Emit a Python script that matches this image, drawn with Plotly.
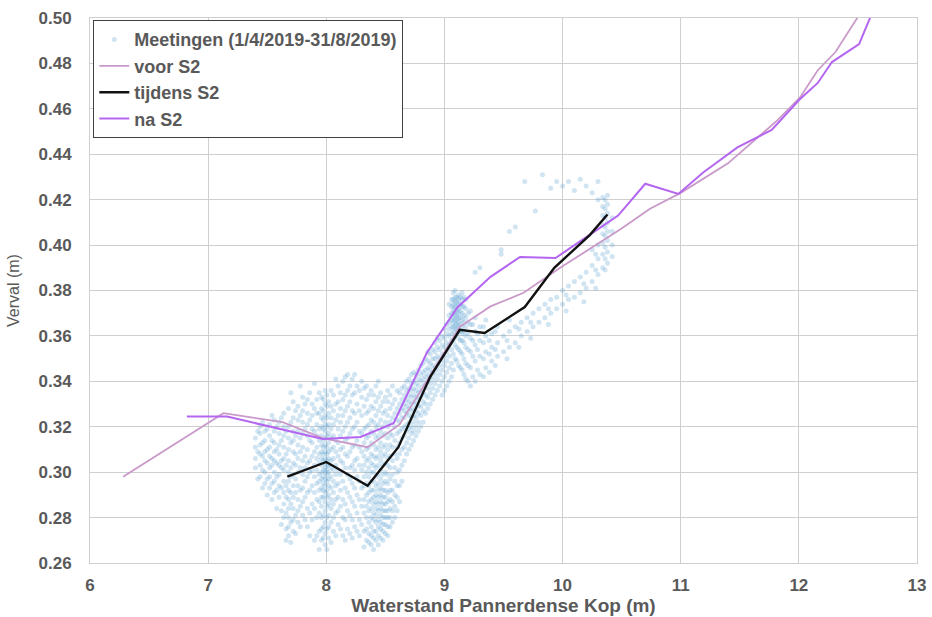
import plotly.graph_objects as go

# Measurement cloud, stored column by column: (waterstand, [verval values])
meas_columns = [
    (7.40, [0.302, 0.306, 0.311, 0.315]),
    (7.44, [0.298, 0.303, 0.308, 0.312, 0.317, 0.320]),
    (7.48, [0.295, 0.300, 0.305, 0.309, 0.314, 0.318]),
    (7.52, [0.293, 0.298, 0.302, 0.307, 0.311, 0.316, 0.321]),
    (7.56, [0.291, 0.296, 0.300, 0.305, 0.309, 0.313, 0.318, 0.323]),
    (7.60, [0.289, 0.294, 0.299, 0.303, 0.308, 0.312, 0.317, 0.322]),
    (7.64, [0.280, 0.286, 0.291, 0.296, 0.301, 0.306, 0.311, 0.316, 0.320, 0.326]),
    (7.68, [0.272, 0.276, 0.280, 0.284, 0.288, 0.292, 0.296, 0.300, 0.305, 0.310, 0.315, 0.320, 0.328]),
    (7.72, [0.274, 0.279, 0.284, 0.289, 0.294, 0.299, 0.304, 0.309, 0.314, 0.318, 0.324, 0.331]),
    (7.76, [0.278, 0.283, 0.288, 0.294, 0.300, 0.306, 0.312, 0.318, 0.323, 0.329]),
    (7.80, [0.281, 0.287, 0.293, 0.299, 0.305, 0.311, 0.317, 0.322, 0.327, 0.333]),
    (7.84, [0.276, 0.284, 0.291, 0.298, 0.304, 0.310, 0.316, 0.321, 0.326, 0.332]),
    (7.88, [0.279, 0.286, 0.294, 0.301, 0.307, 0.313, 0.319, 0.325, 0.330]),
    (7.92, [0.272, 0.280, 0.288, 0.295, 0.301, 0.306, 0.311, 0.316, 0.321, 0.326, 0.332]),
    (7.96, [0.270, 0.275, 0.280, 0.285, 0.289, 0.293, 0.297, 0.300, 0.303, 0.306, 0.309, 0.312,
            0.316, 0.320, 0.324, 0.328, 0.333]),
    (7.99, [0.268, 0.273, 0.278, 0.283, 0.287, 0.291, 0.294, 0.297, 0.300, 0.302, 0.304, 0.306,
            0.309, 0.312, 0.315, 0.318, 0.321, 0.325, 0.330, 0.336]),
    (8.02, [0.271, 0.276, 0.281, 0.286, 0.290, 0.294, 0.297, 0.300, 0.303, 0.306, 0.309, 0.313,
            0.317, 0.321, 0.326, 0.331]),
    (8.06, [0.274, 0.280, 0.286, 0.291, 0.296, 0.301, 0.306, 0.311, 0.316, 0.321, 0.327, 0.334]),
    (8.10, [0.277, 0.283, 0.289, 0.295, 0.301, 0.307, 0.313, 0.319, 0.325, 0.331, 0.338]),
    (8.14, [0.272, 0.280, 0.288, 0.296, 0.304, 0.311, 0.318, 0.325, 0.332, 0.340]),
    (8.18, [0.275, 0.283, 0.291, 0.299, 0.307, 0.315, 0.322, 0.329, 0.336, 0.343]),
    (8.22, [0.271, 0.279, 0.287, 0.295, 0.303, 0.311, 0.319, 0.327, 0.334, 0.341]),
    (8.26, [0.274, 0.282, 0.290, 0.298, 0.306, 0.314, 0.322, 0.330, 0.338]),
    (8.30, [0.277, 0.285, 0.293, 0.301, 0.309, 0.317, 0.325, 0.333, 0.340]),
    (8.34, [0.270, 0.275, 0.280, 0.285, 0.290, 0.295, 0.300, 0.305, 0.310, 0.315, 0.320, 0.326,
            0.332, 0.338]),
    (8.38, [0.268, 0.272, 0.276, 0.280, 0.284, 0.288, 0.292, 0.296, 0.300, 0.304, 0.308, 0.313,
            0.318, 0.323, 0.329, 0.336]),
    (8.42, [0.270, 0.274, 0.278, 0.281, 0.284, 0.287, 0.290, 0.294, 0.298, 0.302, 0.306, 0.310,
            0.315, 0.320, 0.325, 0.331, 0.338]),
    (8.46, [0.271, 0.275, 0.278, 0.281, 0.284, 0.287, 0.290, 0.293, 0.297, 0.301, 0.305, 0.309,
            0.313, 0.318, 0.323, 0.329, 0.335]),
    (8.50, [0.273, 0.277, 0.280, 0.283, 0.286, 0.289, 0.292, 0.296, 0.300, 0.304, 0.308, 0.312,
            0.317, 0.322, 0.327, 0.333]),
    (8.54, [0.276, 0.280, 0.284, 0.288, 0.292, 0.297, 0.302, 0.307, 0.312, 0.317, 0.322, 0.328, 0.334]),
    (8.58, [0.280, 0.285, 0.290, 0.296, 0.302, 0.308, 0.314, 0.320, 0.326, 0.332]),
    (8.62, [0.287, 0.294, 0.301, 0.308, 0.313, 0.318, 0.322, 0.326, 0.330, 0.335]),
    (8.66, [0.305, 0.311, 0.316, 0.320, 0.324, 0.327, 0.330, 0.334, 0.338]),
    (8.70, [0.310, 0.315, 0.319, 0.322, 0.325, 0.328, 0.331, 0.334, 0.337, 0.341]),
    (8.74, [0.314, 0.318, 0.322, 0.325, 0.328, 0.331, 0.334, 0.337, 0.340, 0.344]),
    (8.78, [0.318, 0.322, 0.326, 0.329, 0.332, 0.335, 0.338, 0.341, 0.345]),
    (8.82, [0.322, 0.327, 0.331, 0.335, 0.338, 0.341, 0.344, 0.348]),
    (8.86, [0.328, 0.333, 0.337, 0.340, 0.343, 0.346, 0.349, 0.353]),
    (8.90, [0.332, 0.337, 0.341, 0.344, 0.347, 0.350, 0.354]),
    (8.94, [0.336, 0.341, 0.345, 0.348, 0.351, 0.355, 0.359]),
    (8.98, [0.334, 0.340, 0.345, 0.349, 0.352, 0.356, 0.360]),
    (9.02, [0.338, 0.344, 0.349, 0.353, 0.357, 0.361, 0.365]),
    (9.06, [0.342, 0.348, 0.354, 0.358, 0.361, 0.364, 0.367, 0.370, 0.373, 0.376]),
    (9.09, [0.350, 0.356, 0.360, 0.363, 0.365, 0.367, 0.369, 0.371, 0.373, 0.375, 0.377, 0.380]),
    (9.12, [0.347, 0.354, 0.359, 0.362, 0.364, 0.366, 0.368, 0.370, 0.372, 0.374, 0.376, 0.378]),
    (9.15, [0.345, 0.352, 0.358, 0.361, 0.364, 0.367, 0.370, 0.373, 0.376, 0.379]),
    (9.18, [0.341, 0.348, 0.355, 0.360, 0.364, 0.368, 0.372, 0.376]),
    (9.22, [0.338, 0.346, 0.353, 0.359, 0.365, 0.371]),
    (9.26, [0.340, 0.349, 0.356, 0.362, 0.368, 0.388]),
    (9.30, [0.343, 0.351, 0.358, 0.364, 0.390]),
    (9.35, [0.346, 0.353, 0.360, 0.367]),
    (9.40, [0.349, 0.355, 0.361]),
    (9.45, [0.351, 0.357, 0.364]),
    (9.48, [0.396, 0.398]),
    (9.50, [0.353, 0.360]),
    (9.55, [0.355, 0.362, 0.367, 0.406]),
    (9.60, [0.357, 0.364, 0.408]),
    (9.65, [0.360, 0.366]),
    (9.68, [0.428]),
    (9.70, [0.362, 0.368]),
    (9.75, [0.364, 0.370]),
    (9.77, [0.415]),
    (9.80, [0.366, 0.372]),
    (9.83, [0.431]),
    (9.85, [0.368, 0.374]),
    (9.90, [0.370, 0.376, 0.425]),
    (9.95, [0.372, 0.377, 0.428]),
    (10.00, [0.374, 0.380, 0.426]),
    (10.05, [0.376, 0.382, 0.428]),
    (10.10, [0.377, 0.384, 0.424]),
    (10.15, [0.379, 0.386, 0.429]),
    (10.20, [0.381, 0.388, 0.426]),
    (10.25, [0.384, 0.391, 0.398, 0.423]),
    (10.30, [0.387, 0.394, 0.400, 0.420, 0.428]),
    (10.34, [0.390, 0.396, 0.401, 0.405, 0.409, 0.413, 0.417, 0.421]),
    (10.38, [0.392, 0.397, 0.402, 0.406, 0.410, 0.414, 0.418, 0.422]),
    (10.42, [0.395, 0.400, 0.406, 0.412]),
]

# Further measurements lying between the columns above
meas_columns_mid = [
    (7.42, [0.297, 0.309, 0.318]),
    (7.46, [0.293, 0.301, 0.307, 0.313, 0.322]),
    (7.50, [0.290, 0.297, 0.304, 0.310, 0.319]),
    (7.54, [0.288, 0.295, 0.303, 0.306, 0.314, 0.325]),
    (7.58, [0.284, 0.292, 0.298, 0.304, 0.310, 0.320]),
    (7.62, [0.277, 0.283, 0.293, 0.302, 0.305, 0.314, 0.324]),
    (7.66, [0.270, 0.275, 0.282, 0.289, 0.294, 0.303, 0.308, 0.318]),
    (7.70, [0.269, 0.278, 0.286, 0.291, 0.298, 0.302, 0.313, 0.322, 0.335]),
    (7.74, [0.273, 0.281, 0.291, 0.297, 0.303, 0.308, 0.316, 0.327]),
    (7.78, [0.276, 0.285, 0.292, 0.302, 0.309, 0.315, 0.325, 0.338]),
    (7.82, [0.279, 0.289, 0.296, 0.302, 0.307, 0.319, 0.330]),
    (7.86, [0.272, 0.282, 0.292, 0.300, 0.305, 0.314, 0.323, 0.335]),
    (7.90, [0.270, 0.284, 0.291, 0.298, 0.303, 0.309, 0.318, 0.328, 0.339]),
    (7.94, [0.266, 0.274, 0.282, 0.287, 0.292, 0.296, 0.299, 0.304, 0.308, 0.314, 0.319, 0.326,
            0.335]),
    (7.975, [0.271, 0.276, 0.281, 0.289, 0.292, 0.295, 0.298, 0.301, 0.305, 0.308, 0.311, 0.314,
             0.319, 0.323, 0.327, 0.332]),
    (8.005, [0.266, 0.275, 0.280, 0.285, 0.289, 0.292, 0.296, 0.299, 0.301, 0.303, 0.305, 0.308,
             0.311, 0.316, 0.320, 0.324, 0.329, 0.334]),
    (8.04, [0.269, 0.278, 0.284, 0.288, 0.293, 0.298, 0.302, 0.305, 0.310, 0.315, 0.319, 0.324,
            0.329, 0.336]),
    (8.08, [0.272, 0.282, 0.288, 0.294, 0.299, 0.303, 0.309, 0.314, 0.323, 0.330, 0.341]),
    (8.12, [0.275, 0.285, 0.292, 0.299, 0.305, 0.310, 0.316, 0.322, 0.328, 0.335]),
    (8.16, [0.270, 0.279, 0.286, 0.293, 0.302, 0.308, 0.314, 0.320, 0.327, 0.334, 0.342]),
    (8.20, [0.273, 0.281, 0.289, 0.297, 0.302, 0.309, 0.317, 0.324, 0.331, 0.338]),
    (8.24, [0.276, 0.285, 0.293, 0.301, 0.305, 0.312, 0.320, 0.326, 0.335, 0.343]),
    (8.28, [0.272, 0.279, 0.288, 0.296, 0.303, 0.311, 0.318, 0.327, 0.336]),
    (8.32, [0.267, 0.274, 0.282, 0.288, 0.294, 0.298, 0.303, 0.307, 0.313, 0.319, 0.329, 0.337]),
    (8.36, [0.269, 0.273, 0.278, 0.283, 0.287, 0.291, 0.294, 0.298, 0.302, 0.306, 0.311, 0.316,
            0.321, 0.327, 0.334]),
    (8.40, [0.266, 0.271, 0.274, 0.279, 0.282, 0.286, 0.289, 0.292, 0.296, 0.300, 0.303, 0.307,
            0.312, 0.317, 0.322, 0.328, 0.334]),
    (8.44, [0.268, 0.272, 0.276, 0.279, 0.283, 0.286, 0.289, 0.292, 0.295, 0.299, 0.303, 0.307,
            0.311, 0.316, 0.321, 0.327, 0.333, 0.340]),
    (8.48, [0.270, 0.274, 0.277, 0.280, 0.283, 0.286, 0.289, 0.292, 0.295, 0.299, 0.303, 0.307,
            0.311, 0.316, 0.320, 0.326, 0.331]),
    (8.52, [0.272, 0.276, 0.280, 0.283, 0.287, 0.291, 0.295, 0.299, 0.303, 0.306, 0.310, 0.315,
            0.320, 0.325, 0.331, 0.336]),
    (8.56, [0.278, 0.283, 0.287, 0.292, 0.299, 0.305, 0.311, 0.316, 0.324, 0.330, 0.338]),
    (8.60, [0.283, 0.289, 0.294, 0.300, 0.306, 0.311, 0.317, 0.323, 0.328, 0.336]),
    (8.64, [0.296, 0.303, 0.310, 0.315, 0.319, 0.324, 0.328, 0.332, 0.337]),
    (8.68, [0.308, 0.313, 0.318, 0.321, 0.326, 0.329, 0.332, 0.336, 0.340]),
    (8.72, [0.312, 0.317, 0.320, 0.324, 0.327, 0.330, 0.333, 0.336, 0.339, 0.343]),
    (8.76, [0.316, 0.320, 0.324, 0.327, 0.330, 0.333, 0.336, 0.339, 0.343]),
    (8.80, [0.320, 0.325, 0.329, 0.333, 0.336, 0.340, 0.343, 0.347]),
    (8.84, [0.326, 0.330, 0.334, 0.339, 0.342, 0.345, 0.350]),
    (8.88, [0.330, 0.335, 0.339, 0.342, 0.345, 0.348, 0.352]),
    (8.92, [0.334, 0.339, 0.343, 0.346, 0.350, 0.353, 0.357]),
    (8.96, [0.338, 0.343, 0.347, 0.350, 0.354, 0.358]),
    (9.00, [0.336, 0.342, 0.347, 0.351, 0.355, 0.359, 0.363]),
    (9.04, [0.340, 0.346, 0.351, 0.356, 0.360, 0.363, 0.366, 0.369, 0.374]),
    (9.075, [0.345, 0.352, 0.358, 0.362, 0.364, 0.366, 0.368, 0.370, 0.372, 0.374, 0.376, 0.379]),
    (9.105, [0.349, 0.355, 0.361, 0.363, 0.365, 0.367, 0.369, 0.371, 0.373, 0.375, 0.377]),
    (9.135, [0.346, 0.353, 0.358, 0.362, 0.365, 0.368, 0.371, 0.374, 0.377]),
    (9.165, [0.343, 0.350, 0.357, 0.362, 0.366, 0.369, 0.373, 0.377]),
    (9.20, [0.340, 0.347, 0.354, 0.361, 0.366, 0.370]),
    (9.24, [0.342, 0.351, 0.358, 0.365]),
    (9.28, [0.345, 0.354, 0.361]),
    (9.33, [0.342, 0.350, 0.357, 0.364]),
    (9.38, [0.344, 0.352, 0.358]),
    (9.43, [0.347, 0.354, 0.362]),
    (9.53, [0.350, 0.358]),
    (9.63, [0.355, 0.363]),
    (9.73, [0.359, 0.366]),
    (9.88, [0.365, 0.372]),
    (10.03, [0.371, 0.378]),
    (10.18, [0.375, 0.383]),
    (10.28, [0.381, 0.389, 0.396]),
    (10.36, [0.389, 0.394, 0.399, 0.404, 0.408, 0.412, 0.416, 0.420]),
]

# Rating curves before, during and after S2
voor_x = [6.28, 7.13, 7.63, 7.97, 8.35, 8.62, 8.82, 9.13, 9.39, 9.67, 9.98, 10.49, 10.74,
          11.00, 11.40, 11.82, 12.01, 12.16, 12.31, 12.58]
voor_y = [0.298, 0.326, 0.322, 0.315, 0.311, 0.321, 0.3375, 0.364, 0.373, 0.379, 0.390, 0.407,
          0.416, 0.423, 0.436, 0.455, 0.465, 0.477, 0.485, 0.507]

tijdens_x = [7.67, 8.00, 8.35, 8.61, 8.74, 8.88, 9.13, 9.34, 9.68, 9.93, 10.23, 10.38]
tijdens_y = [0.298, 0.3045, 0.294, 0.311, 0.326, 0.342, 0.3627, 0.3613, 0.3727, 0.390, 0.4044,
             0.4135]

na_x = [6.82, 7.16, 7.97, 8.29, 8.57, 8.85, 9.11, 9.39, 9.64, 9.94, 10.21, 10.47, 10.70, 10.98,
        11.19, 11.48, 11.77, 12.01, 12.16, 12.28, 12.51, 12.65]
na_y = [0.3245, 0.3245, 0.3146, 0.3155, 0.3216, 0.3525, 0.3725, 0.386, 0.3948, 0.3943, 0.4038,
        0.413, 0.427, 0.4225, 0.432, 0.443, 0.4507, 0.4643, 0.4714, 0.4806, 0.4885, 0.506]

x_ticks = [6, 7, 8, 9, 10, 11, 12, 13]
y_ticks = [0.26, 0.28, 0.30, 0.32, 0.34, 0.36, 0.38, 0.40, 0.42, 0.44, 0.46, 0.48, 0.50]

all_columns = meas_columns + meas_columns_mid
meas_x = [x for x, ys in all_columns for _ in ys]
meas_y = [y for _, ys in all_columns for y in ys]

FONT = "Liberation Sans, Arial, sans-serif"
TXT = "#595959"
GRID = "#cfcfcf"

fig = go.Figure()
fig.add_trace(go.Scatter(
    x=meas_x, y=meas_y, mode="markers", name="Meetingen (1/4/2019-31/8/2019)",
    marker=dict(size=5, color="rgba(85,158,210,0.28)", line=dict(width=0)),
    legendrank=1, legendgroup="m",
))
fig.add_trace(go.Scatter(
    x=voor_x, y=voor_y, mode="lines", name="voor S2",
    line=dict(color="#c99ac9", width=1.8), legendrank=2, legendgroup="v",
))
fig.add_trace(go.Scatter(
    x=na_x, y=na_y, mode="lines", name="na S2",
    line=dict(color="#b466f0", width=2), legendrank=4, legendgroup="n",
))
fig.add_trace(go.Scatter(
    x=tijdens_x, y=tijdens_y, mode="lines", name="tijdens S2",
    line=dict(color="#111111", width=2.4), legendrank=3, legendgroup="t",
))

fig.update_layout(
    width=932, height=617,
    margin=dict(l=90, r=15, t=18, b=54),
    paper_bgcolor="white", plot_bgcolor="white",
    font=dict(family=FONT, color=TXT),
    legend=dict(
        x=0.004, y=0.996, xanchor="left", yanchor="top",
        bgcolor="white", bordercolor="#404040", borderwidth=1,
        font=dict(size=18, color=TXT, weight="bold"),
        tracegroupgap=0, itemwidth=30,
    ),
    showlegend=True,
)
fig.update_xaxes(
    range=[6, 13], tickvals=x_ticks, ticktext=[str(v) for v in x_ticks],
    showgrid=True, gridcolor=GRID, gridwidth=1, automargin=False,
    showline=True, linecolor=GRID, mirror=True, zeroline=False,
    ticks="outside", ticklen=7, tickcolor="rgba(0,0,0,0)",
    tickfont=dict(size=17, color=TXT, weight="bold"),
    title=dict(text="Waterstand Pannerdense Kop (m)", standoff=2,
               font=dict(size=19, color=TXT, weight="bold")),
)
fig.update_yaxes(
    range=[0.26, 0.50], tickvals=y_ticks, ticktext=[f"{v:.2f}" for v in y_ticks],
    showgrid=True, gridcolor=GRID, gridwidth=1, automargin=False,
    showline=True, linecolor=GRID, mirror=True, zeroline=False,
    ticks="outside", ticklen=14, tickcolor="rgba(0,0,0,0)",
    tickfont=dict(size=17, color=TXT, weight="bold"),
    title=dict(text="Verval (m)", standoff=14,
               font=dict(size=16, color=TXT)),
)

fig.write_html("out.html")
